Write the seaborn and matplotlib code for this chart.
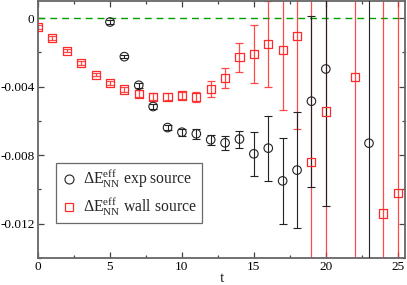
import numpy as np
import pandas as pd
import matplotlib
matplotlib.use("Agg")
import matplotlib.pyplot as plt
import seaborn as sns
from matplotlib.lines import Line2D

# ---- data ----
t_exp = [5, 6, 7, 8, 9, 10, 11, 12, 13, 14, 15, 16, 17, 18, 19, 20, 23]
e_exp = [-0.00023, -0.00225, -0.00392, -0.00516, -0.00639, -0.00666, -0.00675,
         -0.00710, -0.00728, -0.00706, -0.00792, -0.00759, -0.00950, -0.00887,
         -0.00485, -0.00297, -0.00730]
err_exp = [0.0001, 0.0001, 0.00015, 0.00015, 0.00015, 0.0002, 0.0003,
           0.0003, 0.0004, 0.0005, 0.0013, 0.0019, 0.0025, 0.0034,
           0.0050, 0.0080, 0.0200]

t_wall = [0, 1, 2, 3, 4, 5, 6, 7, 8, 9, 10, 11, 12, 13, 14, 15, 16, 17, 18,
          19, 20, 22, 24, 25]
e_wall = [-0.00051, -0.00116, -0.00190, -0.00262, -0.00330, -0.00378, -0.00417,
          -0.00442, -0.00458, -0.00458, -0.00452, -0.00462, -0.00413, -0.00350,
          -0.00229, -0.00210, -0.00153, -0.00186, -0.00105, -0.00842, -0.00545,
          -0.00342, -0.01140, -0.01020]
err_wall = [0.0001, 0.0001, 0.0001, 0.0001, 0.0001, 0.0001, 0.00015, 0.0002,
            0.0002, 0.0002, 0.0002, 0.0003, 0.00045, 0.00058, 0.00085, 0.0017,
            0.0025, 0.0035, 0.0054, 0.0200, 0.0200, 0.0200, 0.0200, 0.0200]

x_ticks = [0, 5, 10, 15, 20, 25]
y_ticks = [0, -0.004, -0.008, -0.012]
y_tick_labels = ["0", "-0.004", "-0.008", "-0.012"]

df_exp = pd.DataFrame({"t": t_exp, "E": e_exp, "err": err_exp})
df_wall = pd.DataFrame({"t": t_wall, "E": e_wall, "err": err_wall})

sns.set_theme(style="ticks")
plt.rcParams["font.family"] = ["Liberation Serif", "DejaVu Serif"]
plt.rcParams["mathtext.fontset"] = "custom"
plt.rcParams["mathtext.rm"] = "Liberation Serif"
plt.rcParams["mathtext.it"] = "Liberation Serif:italic"
plt.rcParams["mathtext.bf"] = "Liberation Serif:bold"

fig = plt.figure(figsize=(4.07, 2.85), dpi=100)
ax = fig.add_axes([0.0934, 0.0947, 0.9016, 0.902])

red = "#ff2a2a"
black = "#222222"

ax.axhline(0, color="#00a000", lw=1.0, ls=(0, (5, 3.5)), zorder=1)

ax.errorbar(df_wall["t"], df_wall["E"], yerr=df_wall["err"], fmt="none",
            ecolor=red, elinewidth=0.9, capsize=3, capthick=0.9, alpha=0.85, zorder=2)
ax.errorbar(df_exp["t"], df_exp["E"], yerr=df_exp["err"], fmt="none",
            ecolor=black, elinewidth=0.8, capsize=3, capthick=0.8, zorder=3)

sns.scatterplot(data=df_wall, x="t", y="E", ax=ax, marker="s", s=34,
                facecolor="none", edgecolor=red, linewidth=0.9, zorder=4)
sns.scatterplot(data=df_exp, x="t", y="E", ax=ax, marker="o", s=38,
                facecolor="none", edgecolor=black, linewidth=0.8, zorder=5)

ax.set_xlim(0, 25.5)
ax.set_ylim(-0.014, 0.001)
ax.set_xticks(x_ticks)
ax.set_xticks(np.arange(0, 25.5, 2.5), minor=True)
ax.set_yticks(y_ticks)
ax.set_yticklabels(y_tick_labels)
ax.set_yticks(np.arange(-0.014, 0.0005, 0.002), minor=True)
ax.tick_params(axis="both", which="both", direction="in", top=True, right=True,
               labelsize=9.5, colors="#444444", labelcolor="black", pad=2.5)
ax.tick_params(which="major", length=4.5, width=0.9)
ax.tick_params(which="minor", length=2.5, width=0.9)
for s in ax.spines.values():
    s.set_color("#666666")
    s.set_linewidth(1.3)

ax.set_xlabel("t", fontsize=11, labelpad=-1)
ax.set_ylabel("")

handles = [
    Line2D([], [], marker="o", ls="none", mfc="none", mec=black, ms=6.5, mew=0.8),
    Line2D([], [], marker="s", ls="none", mfc="none", mec=red, ms=5.5, mew=0.9),
]
labels = [r"$\Delta\mathrm{E}_{\mathrm{NN}}^{\mathrm{eff}}$ exp source",
          r"$\Delta\mathrm{E}_{\mathrm{NN}}^{\mathrm{eff}}$ wall source"]
leg = ax.legend(handles, labels, loc="lower left", bbox_to_anchor=(0.049, 0.136),
                fontsize=11.3, frameon=True, fancybox=False, edgecolor="#444444",
                handlelength=1.1, handletextpad=0.35, borderpad=0.3,
                labelspacing=0.4, borderaxespad=0)
leg.get_frame().set_linewidth(0.9)

fig.savefig("out.png", dpi=100)
